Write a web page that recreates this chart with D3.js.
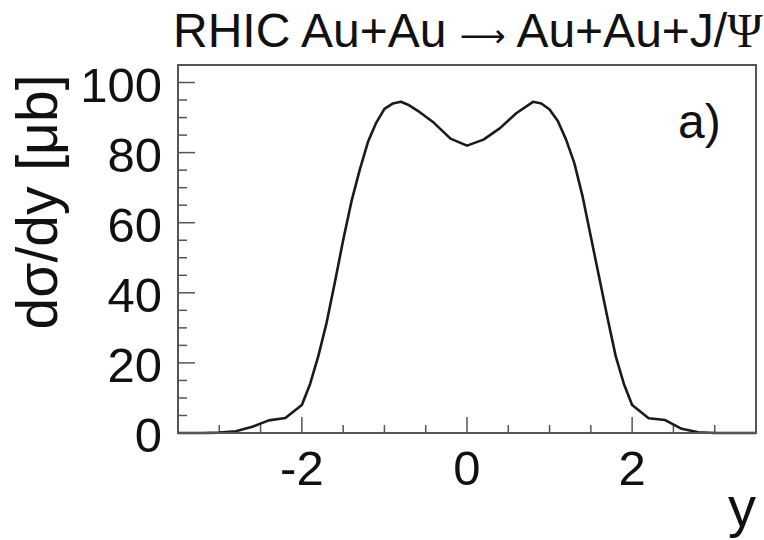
<!DOCTYPE html>
<html>
<head>
<meta charset="utf-8">
<script src="https://cdn.jsdelivr.net/npm/d3@7"></script>
<style>
  body { margin: 0; background: #fff; }
</style>
</head>
<body>
<div id="chart"></div>
<script>
//Data
const rapidity = [-3.5, -3.2, -3.0, -2.8, -2.6, -2.4, -2.2, -2.0, -1.9, -1.8, -1.7, -1.6, -1.5, -1.4, -1.3, -1.2, -1.1, -1.0, -0.9, -0.8, -0.7, -0.6, -0.4, -0.2, 0,
                  0.2, 0.4, 0.6, 0.8, 0.9, 1.0, 1.1, 1.2, 1.3, 1.4, 1.5, 1.6, 1.7, 1.8, 1.9, 2.0, 2.2, 2.4, 2.6, 2.8, 3.0, 3.5]
const dsigma = [0, 0, 0.1, 0.5, 1.8, 3.6, 4.3, 8.0, 14, 22, 31.5, 43, 55, 66, 75, 83, 88.5, 92.5, 94, 94.5, 93.5, 92, 88.5, 84, 82,
                83.7, 87, 91.3, 94.5, 94, 92.3, 89, 83.7, 77, 67.5, 56, 44.5, 33, 22, 14, 8, 4.2, 3.7, 1.2, 0.2, 0, 0]
const xTicks = [-2, 0, 2]
const yTicks = [0, 20, 40, 60, 80, 100]

const points = rapidity.map((x, i) => ({x: x, y: dsigma[i]}))

//Dimensions
let dimensions = {
    width: 764,
    height: 540,
    margin: {
      top: 65,
      bottom: 107,
      left: 178,
      right: 8
    }
  }

const svg = d3.select("#chart")
            .append('svg')
            .attr('width', dimensions.width)
            .attr('height', dimensions.height)
            .style('font-family', 'Liberation Sans, Arial, sans-serif')

const container = svg.append('g')
                     .attr('transform', `translate(${dimensions.margin.left},${dimensions.margin.top})`)

const containerWidth = dimensions.width - dimensions.margin.left - dimensions.margin.right
const containerHeight = dimensions.height - dimensions.margin.top - dimensions.margin.bottom

//Scales
const xScale = d3.scaleLinear()
                 .domain([-3.5, 3.5])
                 .range([0, containerWidth])

const yScale = d3.scaleLinear()
                 .domain([0, 105])
                 .range([containerHeight, 0])

//Ticks (inside the frame, root style)
const xMinor = d3.range(-3, 3.01, 0.5)
container.selectAll('.xtick')
         .data(xMinor)
         .join('line')
         .attr('class', 'xtick')
         .attr('x1', d => xScale(d))
         .attr('x2', d => xScale(d))
         .attr('y1', containerHeight)
         .attr('y2', d => containerHeight - (xTicks.includes(d) ? 16 : 8))
         .attr('stroke', '#555')
         .attr('stroke-width', 1.5)

const yMinor = d3.range(0, 105, 5)
container.selectAll('.ytick')
         .data(yMinor)
         .join('line')
         .attr('class', 'ytick')
         .attr('x1', 0)
         .attr('x2', d => (yTicks.includes(d) ? 17 : 9))
         .attr('y1', d => yScale(d))
         .attr('y2', d => yScale(d))
         .attr('stroke', '#555')
         .attr('stroke-width', 1.5)

//Tick labels
container.selectAll('.xlabel')
         .data(xTicks)
         .join('text')
         .attr('class', 'xlabel')
         .attr('x', d => xScale(d))
         .attr('y', containerHeight + 52)
         .attr('text-anchor', 'middle')
         .attr('font-size', '49px')
         .attr('fill', '#111')
         .text(d => d)

container.selectAll('.ylabel')
         .data(yTicks)
         .join('text')
         .attr('class', 'ylabel')
         .attr('x', -16)
         .attr('y', d => yScale(d) + 19)
         .attr('text-anchor', 'end')
         .attr('font-size', '49px')
         .attr('fill', '#111')
         .text(d => d)

//Curve
const line = d3.line()
               .x(d => xScale(d.x))
               .y(d => yScale(d.y))

container.append('path')
         .datum(points)
         .attr('d', line)
         .attr('fill', 'none')
         .attr('stroke', '#1a1a1a')
         .attr('stroke-width', 2.6)
         .attr('stroke-linejoin', 'round')

//Frame
container.append('rect')
         .attr('x', 0)
         .attr('y', 0)
         .attr('width', containerWidth)
         .attr('height', containerHeight)
         .attr('fill', 'none')
         .attr('stroke', '#555')
         .attr('stroke-width', 2)

//Axis titles
svg.append('text')
   .attr('x', 756)
   .attr('y', 526)
   .attr('text-anchor', 'end')
   .attr('font-size', '56px')
   .attr('fill', '#111')
   .text('y')

svg.append('text')
   .attr('transform', 'translate(57,202) rotate(-90)')
   .attr('text-anchor', 'middle')
   .attr('font-size', '57px')
   .attr('fill', '#111')
   .text('dσ/dy [μb]')

//Panel tag
svg.append('text')
   .attr('x', 678)
   .attr('y', 138)
   .attr('font-size', '48px')
   .attr('fill', '#111')
   .text('a)')

//Title
const title = svg.append('text')
                 .attr('x', 173)
                 .attr('y', 47)
                 .attr('font-size', '48px')
                 .attr('fill', '#111')
title.append('tspan').text('RHIC Au+Au ')
title.append('tspan').attr('font-family', 'DejaVu Sans').attr('font-size', '32px').text('⟶')
title.append('tspan').text(' Au+Au+J/')
title.append('tspan').attr('font-family', 'Liberation Serif').text('Ψ')
</script>
</body>
</html>
